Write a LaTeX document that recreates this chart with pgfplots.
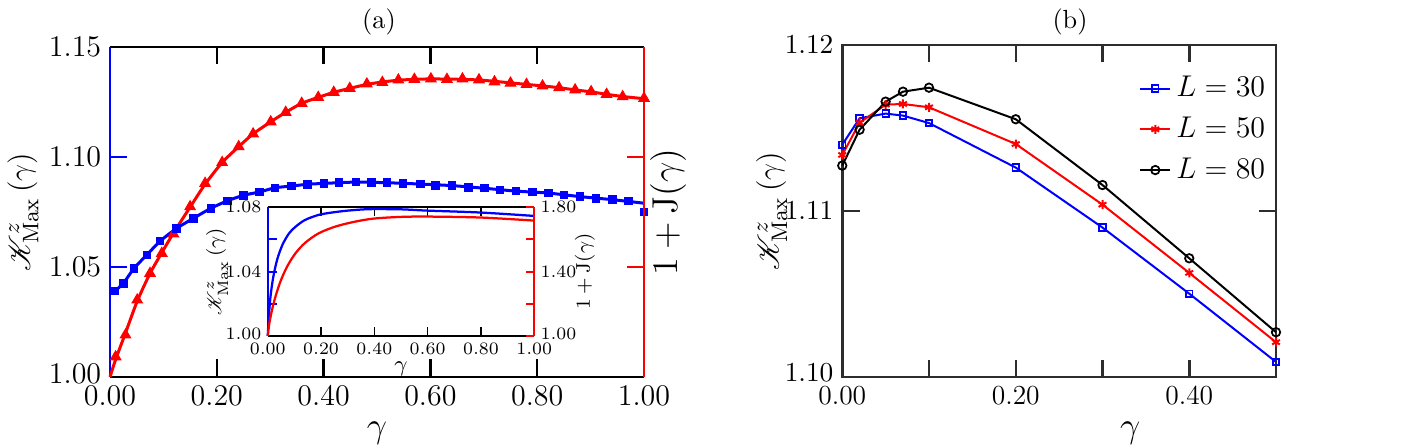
\documentclass[border=0pt]{standalone}
\usepackage{pgfplots}
\pgfplotsset{compat=1.18}
\usepackage{pgfplotstable}
\usepackage{mathrsfs}

\definecolor{pblue}{RGB}{0,0,255}
\definecolor{pred}{RGB}{255,0,0}
\definecolor{axgray}{RGB}{45,45,45}

\newcommand{\Kmax}{\mathscr{K}^{z}_{\mathrm{Max}}\,(\gamma)}
\newcommand{\fs}[1]{\fontsize{#1}{#1}\selectfont}

% ---------- panel (a): sampled values ----------
\pgfplotstableread{
g k
0.0094 1.0392
0.025 1.0426
0.045 1.0494
0.069 1.0555
0.094 1.0618
0.125 1.0676
0.156 1.0721
0.189 1.0767
0.220 1.0801
0.250 1.0826
0.280 1.0841
0.309 1.0860
0.340 1.0868
0.370 1.0876
0.401 1.0880
0.429 1.0883
0.461 1.0886
0.490 1.0885
0.519 1.0883
0.549 1.0880
0.581 1.0877
0.610 1.0871
0.640 1.0870
0.671 1.0862
0.701 1.0858
0.730 1.0851
0.760 1.0845
0.791 1.0842
0.821 1.0836
0.850 1.0827
0.880 1.0820
0.910 1.0812
0.941 1.0806
0.971 1.0800
1.000 1.0749
}\squares

% continuous curve through the squares
\pgfplotstableread{
g k
0.000 1.0385
0.0094 1.0392
0.025 1.0426
0.045 1.0494
0.069 1.0555
0.094 1.0618
0.125 1.0676
0.156 1.0721
0.189 1.0767
0.220 1.0801
0.250 1.0826
0.280 1.0841
0.309 1.0860
0.340 1.0868
0.370 1.0876
0.401 1.0880
0.461 1.0886
0.519 1.0883
0.581 1.0877
0.640 1.0870
0.701 1.0858
0.760 1.0845
0.821 1.0836
0.880 1.0820
0.941 1.0806
1.000 1.0790
}\squareline

\pgfplotstableread{
g j
0.0106 1.0092
0.029 1.0191
0.051 1.0350
0.075 1.0471
0.097 1.0562
0.119 1.0650
0.150 1.0774
0.178 1.0880
0.210 1.0975
0.241 1.1047
0.268 1.1105
0.301 1.1160
0.329 1.1203
0.359 1.1244
0.390 1.1271
0.419 1.1294
0.449 1.1312
0.481 1.1332
0.510 1.1339
0.540 1.1350
0.570 1.1353
0.601 1.1355
0.631 1.1353
0.660 1.1355
0.691 1.1351
0.720 1.1342
0.750 1.1336
0.780 1.1330
0.810 1.1323
0.841 1.1315
0.871 1.1305
0.901 1.1297
0.930 1.1285
0.960 1.1274
1.000 1.1267
}\triangles

% continuous curve through the triangles
\pgfplotstableread{
g j
0.000 1.0000
0.0106 1.0080
0.029 1.0200
0.051 1.0345
0.075 1.0471
0.097 1.0565
0.119 1.0655
0.150 1.0772
0.178 1.0876
0.210 1.0975
0.241 1.1047
0.268 1.1105
0.301 1.1160
0.329 1.1203
0.359 1.1244
0.390 1.1271
0.419 1.1294
0.449 1.1312
0.481 1.1330
0.510 1.1341
0.540 1.1349
0.570 1.1353
0.601 1.1355
0.631 1.1354
0.660 1.1353
0.691 1.1350
0.720 1.1344
0.750 1.1337
0.780 1.1330
0.810 1.1323
0.841 1.1315
0.871 1.1305
0.901 1.1296
0.930 1.1285
0.960 1.1275
1.000 1.1265
}\triangleline

% ---------- inset: continuous curves ----------
\pgfplotstableread{
g k
0.000 1.0000
0.004 1.0120
0.010 1.0240
0.020 1.0360
0.035 1.0473
0.055 1.0566
0.080 1.0638
0.105 1.0680
0.140 1.0721
0.190 1.0752
0.240 1.0767
0.300 1.0779
0.380 1.0788
0.500 1.0787
0.600 1.0779
0.800 1.0767
1.000 1.0746
}\insetK

\pgfplotstableread{
g j
0.000 1.000
0.006 1.079
0.016 1.162
0.029 1.245
0.0475 1.338
0.0725 1.431
0.104 1.514
0.141 1.580
0.191 1.638
0.254 1.680
0.329 1.711
0.400 1.730
0.500 1.740
0.600 1.742
0.800 1.736
1.000 1.717
}\insetJ

\pgfplotsset{
  panel/.style={
    scale only axis, clip=false, anchor=south west,
    tick align=inside, scaled ticks=false,
    major tick length=7pt,
    /pgf/number format/fixed,
    /pgf/number format/fixed zerofill,
    /pgf/number format/precision=2,
  },
}

\begin{document}
\begin{tikzpicture}
\useasboundingbox (0,0) rectangle (562pt,179.2pt);

% ===== (a) main axis, left scale =====
\begin{axis}[panel,
  at={(44pt,28.4pt)}, width=213.6pt, height=132pt,
  xmin=0, xmax=1, ymin=1, ymax=1.15,
  axis x line*=box, axis y line*=left, separate axis lines,
  x axis line style={black, line width=1pt},
  y axis line style={pblue, line width=1pt},
  xtick={0,0.2,0.4,0.6,0.8,1.0}, xtick pos=both, xticklabel pos=bottom,
  ytick={1.00,1.05,1.10,1.15}, ytick pos=left,
  yticklabels={\raisebox{2.8pt}{$1.00$},$1.05$,$1.10$,$1.15$},
  xtick style={black, line width=1pt},
  ytick style={pblue, line width=1pt},
  tick label style={font=\fs{11.5}},
  xlabel={$\gamma$}, xlabel style={font=\fs{15}},
  ylabel={$\Kmax$}, ylabel style={font=\fs{13},
    at={(axis description cs:-0.163,0.5)}, anchor=center},
]
\addplot[pblue, line width=1.2pt, smooth, tension=0.4] table[x=g,y=k] {\squareline};
\addplot[pred, line width=1.2pt, smooth, tension=0.4] table[x=g,y=j] {\triangleline};
\addplot[pred, only marks, mark=triangle*, mark size=2.4pt] table[x=g,y=j] {\triangles};
\addplot[pblue, only marks, mark=square*, mark size=1.5pt] table[x=g,y=k] {\squares};
\end{axis}

% ===== (a) right scale =====
\begin{axis}[panel,
  at={(44pt,28.4pt)}, width=213.6pt, height=132pt,
  xmin=0, xmax=1, ymin=1, ymax=1.15,
  axis x line=none, axis y line*=right,
  y axis line style={pred, line width=1pt},
  ytick={1.05,1.10}, yticklabels={},
  ytick style={pred, line width=1pt},
  ylabel={$1+\mathrm{J}(\gamma)$}, ylabel style={font=\fs{13.5},
    at={(axis description cs:1.045,0.5)}, anchor=center},
]
\addplot[draw=none] coordinates {(0,1) (1,1.15)};
\end{axis}

% ===== inset, left scale =====
\begin{axis}[panel,
  at={(107.1pt,44.8pt)}, width=106.6pt, height=51.5pt,
  axis background/.style={fill=white},
  xmin=0, xmax=1, ymin=1, ymax=1.08,
  axis x line*=box, axis y line*=left, separate axis lines,
  x axis line style={black, line width=0.6pt},
  y axis line style={pblue, line width=0.8pt},
  major tick length=3.5pt,
  xtick={0,0.2,0.4,0.6,0.8,1.0}, xtick pos=both, xticklabel pos=bottom,
  ytick={1.00,1.02,1.04,1.06,1.08},
  yticklabels={\raisebox{2pt}{$1.00$},,$1.04$,,$1.08$}, ytick pos=left,
  xtick style={black, line width=0.6pt},
  ytick style={pblue, line width=0.8pt},
  tick label style={font=\fs{7}},
  xticklabel style={yshift=0.5pt},
  yticklabel style={xshift=1pt},
  xlabel={$\gamma$}, xlabel style={font=\fs{9}, yshift=4pt},
  ylabel={$\Kmax$}, ylabel style={font=\fs{8},
    at={(axis description cs:-0.19,0.5)}, anchor=center},
]
\addplot[pblue, line width=0.9pt, smooth, tension=0.5] table[x=g,y=k] {\insetK};
\end{axis}

% ===== inset, right scale =====
\begin{axis}[panel,
  at={(107.1pt,44.8pt)}, width=106.6pt, height=51.5pt,
  xmin=0, xmax=1, ymin=1, ymax=1.8,
  axis x line=none, axis y line*=right,
  y axis line style={pred, line width=0.8pt},
  major tick length=3.5pt,
  ytick={1.0,1.2,1.4,1.6,1.8},
  yticklabels={\raisebox{2pt}{$1.00$},,$1.40$,,$1.80$},
  ytick style={pred, line width=0.8pt},
  tick label style={font=\fs{7}},
  yticklabel style={xshift=-1pt},
  ylabel={$1+\mathrm{J}(\gamma)$}, ylabel style={font=\fs{8},
    at={(axis description cs:1.19,0.5)}, anchor=center},
]
\addplot[pred, line width=0.9pt, smooth, tension=0.5] table[x=g,y=j] {\insetJ};
\end{axis}

% ===== (b) =====
\begin{axis}[panel,
  at={(336.9pt,28.3pt)}, width=173.5pt, height=132.9pt,
  xmin=0, xmax=0.5, ymin=1.10, ymax=1.12,
  axis line style={axgray, line width=1pt},
  every tick/.style={axgray, line width=1pt},
  xtick={0,0.1,0.2,0.3,0.4,0.5}, xticklabels={0.00,,0.20,,0.40,},
  ytick={1.10,1.11,1.12},
  yticklabels={\raisebox{3.5pt}{$1.10$},$1.11$,$1.12$},
  xtick pos=both, ytick pos=both,
  tick label style={font=\fs{11}},
  yticklabel style={font=\fs{10.5}},
  xlabel={$\gamma$}, xlabel style={font=\fs{15}, at={(ticklabel cs:0.664)}},
  ylabel={$\Kmax$}, ylabel style={font=\fs{13},
    at={(axis description cs:-0.163,0.5)}, anchor=center},
  legend style={at={(axis description cs:1.005,0.937)}, anchor=north east,
    draw=none, fill=none, font=\fs{11.5}, row sep=2.6pt},
  legend cell align=left,
  legend image code/.code={\draw[mark repeat=2,mark phase=2] plot coordinates {(0pt,0pt) (6pt,0pt) (12pt,0pt)};},
]
\addplot[pblue, line width=0.8pt, mark=square, mark size=1.3pt, mark options={line width=0.7pt}] coordinates {
 (0,1.11400) (0.02,1.11559) (0.05,1.11587) (0.07,1.11575) (0.1,1.11530)
 (0.2,1.11262) (0.3,1.10901) (0.4,1.10503) (0.5,1.10092)};
\addlegendentry{$L=30$}
\addplot[pred, line width=0.8pt, mark=asterisk, mark size=1.8pt, mark options={line width=0.8pt}] coordinates {
 (0,1.11338) (0.02,1.11532) (0.05,1.11641) (0.07,1.11645) (0.1,1.11625)
 (0.2,1.11404) (0.3,1.11039) (0.4,1.10628) (0.5,1.10211)};
\addlegendentry{$L=50$}
\addplot[black, line width=0.8pt, mark=o, mark size=1.7pt, mark options={line width=0.7pt}] coordinates {
 (0,1.11274) (0.02,1.11490) (0.05,1.11659) (0.07,1.11719) (0.1,1.11743)
 (0.2,1.11553) (0.3,1.11157) (0.4,1.10716) (0.5,1.10271)};
\addlegendentry{$L=80$}
\end{axis}

% panel titles
\node[font=\fs{10.5}] at (151.6pt,170.4pt) {(a)};
\node[font=\fs{10.5}] at (428pt,170.4pt) {(b)};
\end{tikzpicture}
\end{document}
